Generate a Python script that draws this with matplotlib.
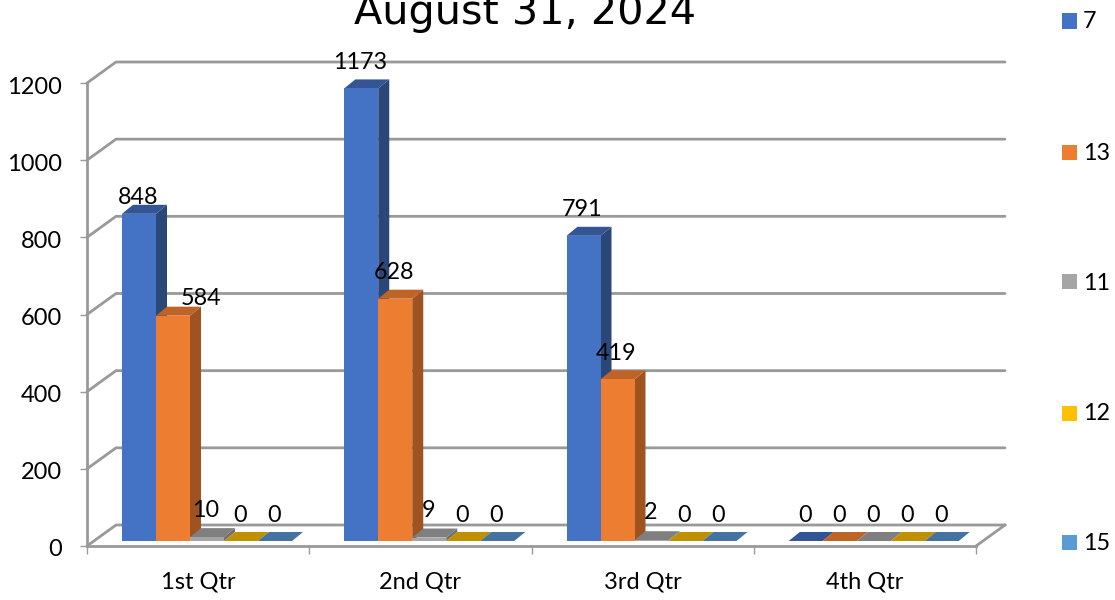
import matplotlib
matplotlib.use("Agg")
import matplotlib.pyplot as plt
from matplotlib.patches import Polygon, Rectangle
from matplotlib.transforms import ScaledTranslation

# Data
quarters = ["1st Qtr", "2nd Qtr", "3rd Qtr", "4th Qtr"]
series_names = ["7", "13", "11", "12", "15"]
values_7 = [848, 1173, 791, 0]
values_13 = [584, 628, 419, 0]
values_11 = [10, 9, 2, 0]
values_12 = [0, 0, 0, 0]
values_15 = [0, 0, 0, 0]
y_ticks = [0, 200, 400, 600, 800, 1000, 1200]

FONT = "Lato"
W, H = 1115, 600
GRID = "#999999"

# colours: front, top, side
front_cols = ["#4472C4", "#ED7D31", "#A5A5A5", "#FFC000", "#5B9BD5"]
top_cols = ["#335593", "#BE6427", "#7F7F7F", "#BF9000", "#44739F"]
side_cols = ["#2B4778", "#9E5320", "#6E6E6E", "#9E7700", "#3A6288"]

fig = plt.figure(figsize=(W / 100, H / 100), dpi=100)
# axes = front plane of the 3D box
left, right, bottom, top = 87, 976, 546, 83
ax = fig.add_axes([left / W, 1 - bottom / H, (right - left) / W, (bottom - top) / H])
ax.set_xlim(0, 4)
ax.set_ylim(0, 1200)
ax.patch.set_visible(False)

px_x = 4 / (right - left)
px_y = 1200 / (bottom - top)

# back wall offset and bar depth, in pixels
wall_dx, wall_dy = 29, 21
depth_dx, depth_dy = 11, 9
bar_w = 34 * px_x
bar_start = 35 * px_x
base = 5 * px_y


def draw_bar(x, value, idx):
    x0, x1 = x, x + bar_w
    y0, y1 = base, base + value
    dx, dy = depth_dx * px_x, depth_dy * px_y
    ax.add_patch(Polygon([(x1, y0), (x1 + dx, y0 + dy), (x1 + dx, y1 + dy), (x1, y1)],
                         fc=side_cols[idx], ec="none", clip_on=False, zorder=3))
    ax.add_patch(Polygon([(x0, y1), (x0 + dx, y1 + dy), (x1 + dx, y1 + dy), (x1, y1)],
                         fc=top_cols[idx], ec="none", clip_on=False, zorder=3))
    if value > 0:
        ax.add_patch(Rectangle((x0, y0), bar_w, value, fc=front_cols[idx], ec="none",
                               clip_on=False, zorder=3))


# grid on the walls
wx, wy = wall_dx * px_x, wall_dy * px_y
for t in y_ticks:
    ax.plot([0, wx, 4 + wx], [t, t + wy, t + wy], color=GRID, lw=2, clip_on=False,
            zorder=1, solid_capstyle="round")
ax.plot([4, 4 + wx], [0, wy], color=GRID, lw=2, clip_on=False, zorder=1)
ax.plot([0, 4], [0, 0], color=GRID, lw=2, clip_on=False, zorder=1)
ax.plot([0, 0], [0, 1200], color=GRID, lw=2, clip_on=False, zorder=1)

# label offsets in pixels, where the labels were moved by hand in the original
nudges = {(0, 0): (-1, 7), (0, 1): (28, 8)}

all_series = [values_7, values_13, values_11, values_12, values_15]
for s, vals in enumerate(all_series):
    for q, v in enumerate(vals):
        x = q + bar_start + s * bar_w
        draw_bar(x, v, s)
        if v > 2:
            nudge = nudges.get((q, s), (-1, 17))
        elif v == 2:
            nudge = (-1, 19)
        else:
            nudge = (-1, 17)
        if s == 2 and v >= 9:
            nudge = (-1, 22 - v * 0.386)
        ax.annotate(str(v), (x + bar_w / 2, base + v), xytext=(nudge[0], depth_dy + nudge[1]),
                    textcoords="offset pixels", ha="center", va="center", fontsize=16.8,
                    family=FONT, color="black", zorder=5, annotation_clip=False)

# axes and ticks
for sp in ax.spines.values():
    sp.set_visible(False)
ax.set_yticks(y_ticks)
ax.set_yticklabels([str(t) for t in y_ticks], family=FONT, fontsize=17)
ax.tick_params(axis="y", length=5, width=1, color=GRID, pad=13)
for lab in ax.get_yticklabels():
    lab.set_transform(lab.get_transform() + ScaledTranslation(0, -2 / 100, fig.dpi_scale_trans))
ax.set_xticks(range(5))
ax.set_xticklabels([])
ax.set_xticks([q + 0.5 for q in range(4)], minor=True)
ax.set_xticklabels(quarters, minor=True, family=FONT, fontsize=17)
ax.tick_params(axis="x", which="major", length=6, width=1, color=GRID)
ax.tick_params(axis="x", which="minor", length=0, pad=18)

# title is cut off by the top of the image in the original
fig.text(525 / W, 1 - 13 / H, "August 31, 2024", ha="center", va="center", fontsize=29.8,
         family="DejaVu Sans", color="black")

# legend down the right side
legend_y = [21, 152, 282, 413, 542]
for name, col, ly in zip(series_names, front_cols, legend_y):
    fig.patches.append(Rectangle((1062 / W, 1 - (ly + 7.5) / H), 15 / W, 15 / H, fc=col, ec="none",
                                 transform=fig.transFigure))
    fig.text(1083 / W, 1 - (ly + 1) / H, name, ha="left", va="center", fontsize=16.8, family=FONT)

fig.savefig("out.png", dpi=100, facecolor="white")
